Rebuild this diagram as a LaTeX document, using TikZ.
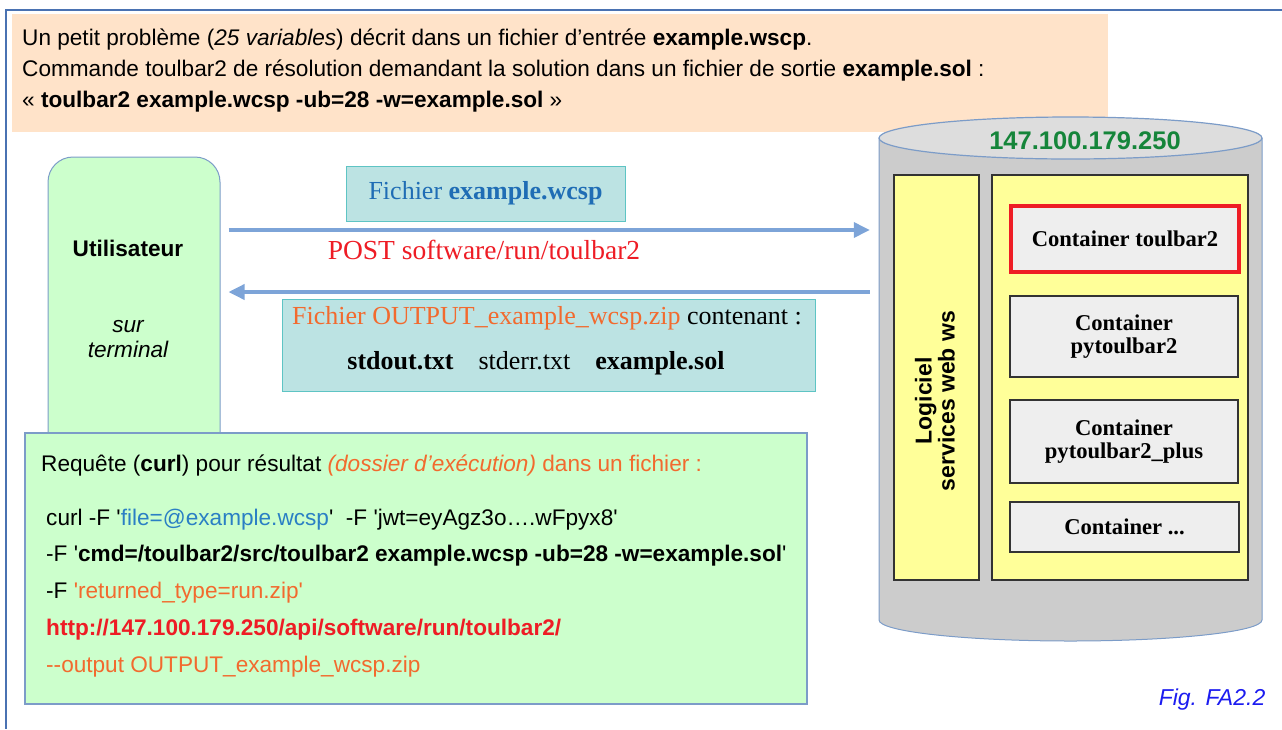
\documentclass[tikz,border=0pt]{standalone}
\usepackage{fontspec}
\setmainfont{Liberation Serif}
\setsansfont{Liberation Sans}
\usetikzlibrary{arrows.meta}
\definecolor{framec}{HTML}{4A72B2}
\definecolor{peach}{HTML}{FFE3C9}
\definecolor{mint}{HTML}{CCFFCC}
\definecolor{edgeb}{HTML}{7C9CC8}
\definecolor{flowc}{HTML}{7DA4D8}
\definecolor{tealf}{HTML}{BCE3E3}
\definecolor{teald}{HTML}{5EC4C4}
\definecolor{cylf}{HTML}{CCCCCC}
\definecolor{cyltop}{HTML}{DDDDDD}
\definecolor{yel}{HTML}{FFFF99}
\definecolor{contf}{HTML}{EEEEEE}
\definecolor{redc}{HTML}{EE1C25}
\definecolor{orangec}{HTML}{F26A2E}
\definecolor{bluet}{HTML}{1F6DB5}
\definecolor{bluec}{HTML}{2A7FC4}
\definecolor{greent}{HTML}{15853A}
\definecolor{figblue}{HTML}{1C1CF0}
\newcommand\setfs[1]{\fontsize{#1}{#1}\selectfont}
\newcommand\sq{\textquotesingle}
\tikzset{
  txt/.style={inner sep=0pt, anchor=west},
  sans/.style={font=\sffamily\setfs{22.6}},
  serif/.style={font=\rmfamily\setfs{26}},
  tealbox/.style={draw=teald, fill=tealf, line width=1pt, inner sep=0pt},
  yelbox/.style={draw=black!80, fill=yel, line width=1.2pt, inner sep=0pt},
  contbox/.style={draw=black!80, fill=contf, line width=1.2pt, inner sep=0pt, align=center,
     font=\rmfamily\bfseries\setfs{22.6}},
  flow/.style={draw=flowc, line width=3.5pt, -{Triangle[length=16pt,width=15pt]}},
}
\begin{document}
\begin{tikzpicture}[x=1pt,y=-1pt]
\useasboundingbox (0,0) rectangle (1282,729);
% frame
\draw[framec, line width=1.5pt] (1282,10) -- (6,10) -- (6,729);
% header
\fill[peach] (12,14) rectangle (1108,132);
\node[txt, sans] (h1) at (22,40) {Un petit problème (\textit{25 variables}) décrit dans un fichier d’entrée \textbf{example.wscp}.};
\node[txt, sans] (h2) at (22,71) {Commande toulbar2 de résolution demandant la solution dans un fichier de sortie \textbf{example.sol} :};
\node[txt, sans] (h3) at (22,102) {« \textbf{toulbar2 example.wcsp -ub=28 -w=example.sol} »};

% cylinder
\node[minimum width=383pt, minimum height=500pt, inner sep=0pt] (cyl) at (1070.5,380) {};
\fill[cylf] (879,138) -- (879,620) arc[start angle=180, end angle=0, x radius=191.5, y radius=21] -- (1262,138) -- cycle;
\draw[edgeb, line width=1pt] (879,138) -- (879,620) arc[start angle=180, end angle=0, x radius=191.5, y radius=21] -- (1262,138);
\draw[edgeb, fill=cyltop, line width=1.2pt] (1070.5,138) ellipse[x radius=191.5, y radius=21];
\node[inner sep=0pt, font=\sffamily\bfseries\setfs{25.5}, text=greent] (ip) at (1085,141) {147.100.179.250};
\node[yelbox, minimum width=85pt, minimum height=405pt] (ws) at (936.5,377.5) {};
\node[inner sep=0pt, rotate=90, align=center, font=\sffamily\bfseries\setfs{23}] (wst) at (935,401) {Logiciel\\services web ws};
\node[yelbox, minimum width=256pt, minimum height=405pt] (pool) at (1120,377.5) {};
\node[contbox, draw=redc, line width=3.5pt, minimum width=228pt, minimum height=66pt] (c1) at (1125,239) {Container toulbar2};
\node[contbox, minimum width=228pt, minimum height=81pt] (c2) at (1124,336.5) {Container\\pytoulbar2};
\node[contbox, minimum width=228pt, minimum height=83pt] (c3) at (1124,441.5) {Container\\pytoulbar2\_plus};
\node[contbox, minimum width=229pt, minimum height=50pt] (c4) at (1124.5,527) {Container ...};

% user
\node[draw=edgeb, fill=mint, rounded corners=25pt, line width=1pt, minimum width=172pt, minimum height=320pt, inner sep=0pt] (user) at (134,317) {};
\node[inner sep=0pt, font=\sffamily\bfseries\setfs{22.6}] (ut) at (128,248) {Utilisateur};
\node[inner sep=0pt, align=center, font=\sffamily\itshape\setfs{22.6}] (st) at (128,339) {sur\\[2pt]terminal};

% flows
\coordinate (fy) at (0,230);
\coordinate (ry) at (0,292);
\draw[flow, shorten <=8pt, shorten >=9pt] (user.east |- fy) -- (cyl.west |- fy);
\draw[flow, shorten <=9pt, shorten >=8pt] (cyl.west |- ry) -- (user.east |- ry);
\node[tealbox, minimum width=279pt, minimum height=55pt, serif, text=bluet] (f1) at (485.5,193.5) {Fichier \textbf{example.wcsp}};
\node[inner sep=0pt, font=\rmfamily\setfs{27.5}, text=redc] (post) at (484,250) {POST software/run/toulbar2};
\node[tealbox, minimum width=533pt, minimum height=92pt] (f2) at (548.5,345) {};
\node[inner sep=0pt, serif] (f2a) at (547,318) {\textcolor{orangec}{Fichier OUTPUT\_example\_wcsp.zip} contenant :};
\node[inner sep=0pt, serif] (f2b) at (536,363) {\textbf{stdout.txt}\hspace{25pt}stderr.txt\hspace{25pt}\textbf{example.sol}};

% curl box
\node[draw=edgeb, fill=mint, line width=1.2pt, minimum width=782pt, minimum height=271pt, inner sep=0pt] (curl) at (416,568.5) {};
\node[txt, sans] (l1) at (41,466) {Requête (\textbf{curl}) pour résultat \textcolor{orangec}{\textit{(dossier d’exécution)} dans un fichier :}};
\node[txt, sans] (l2) at (46,520) {curl -F \sq\textcolor{bluec}{file=@example.wcsp}\sq\ \ -F \sq jwt=eyAgz3o….wFpyx8\sq};
\node[txt, sans] (l3) at (46,556) {-F \sq\textbf{cmd=/toulbar2/src/toulbar2 example.wcsp -ub=28 -w=example.sol}\sq};
\node[txt, sans] (l4) at (46,593) {-F \textcolor{orangec}{\sq returned\_type=run.zip\sq}};
\node[txt, sans, text=redc] (l5) at (46,630) {\textbf{http://147.100.179.250/api/software/run/toulbar2/}};
\node[txt, sans, text=orangec] (l6) at (46,667) {-{}-output OUTPUT\_example\_wcsp.zip};

\node[inner sep=0pt, font=\sffamily\itshape\setfs{23}, text=figblue] (fig) at (1212,700) {Fig. FA2.2};
\end{tikzpicture}
\end{document}
